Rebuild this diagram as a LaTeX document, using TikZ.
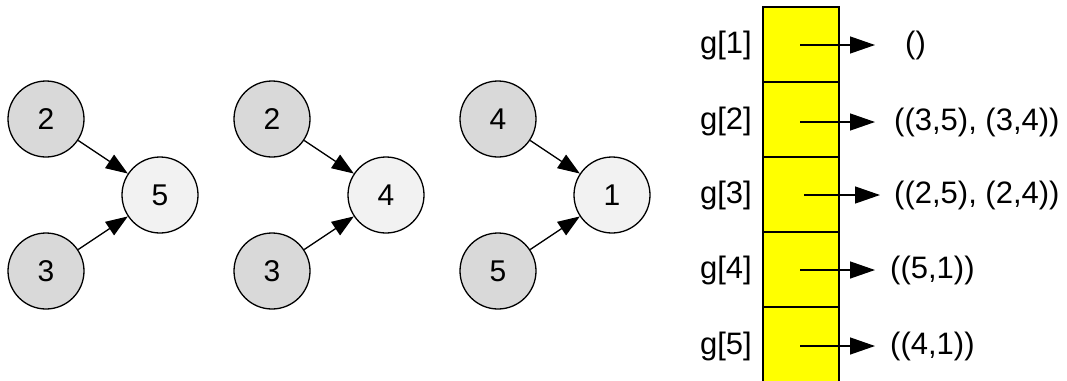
\documentclass[tikz,border=0pt]{standalone}
\usepackage{fontspec}
\setmainfont{Liberation Sans}
\usetikzlibrary{arrows.meta}
\definecolor{srcgray}{HTML}{D9D9D9}
\definecolor{dstgray}{HTML}{F2F2F2}
\definecolor{cellyellow}{HTML}{FFFF00}
\tikzset{
  vtx/.style={circle, draw=black, line width=1.3pt, minimum size=76pt, inner sep=0pt,
              font=\fontsize{30}{32}\selectfont},
  srcvtx/.style={vtx, fill=srcgray},
  dstvtx/.style={vtx, fill=dstgray},
  edgearrow/.style={line width=1.3pt, -{Triangle[length=22pt,width=16pt]}},
  ptrarrow/.style={line width=1.3pt, -{Triangle[length=25pt,width=17pt]}},
  cell/.style={draw=black, line width=1.6pt, fill=cellyellow, minimum width=76pt,
               minimum height=75pt, inner sep=0pt, outer sep=0pt, anchor=north west},
  idxlabel/.style={anchor=east, inner sep=0pt, font=\fontsize{31}{33}\selectfont},
  listlabel/.style={anchor=west, inner sep=0pt, font=\fontsize{31}{33}\selectfont},
}
\begin{document}
\begin{tikzpicture}[x=1pt,y=-1pt]
\useasboundingbox (0,0) rectangle (1067,380);

% first graph: 2 -> 5, 3 -> 5
\node[srcvtx] (a2) at (46,119) {2};
\node[srcvtx] (a3) at (46,271) {3};
\node[dstvtx] (a5) at (160,195) {5};
\draw[edgearrow] (a2) -- (a5);
\draw[edgearrow] (a3) -- (a5);

% second graph: 2 -> 4, 3 -> 4
\node[srcvtx] (b2) at (272,119) {2};
\node[srcvtx] (b3) at (272,271) {3};
\node[dstvtx] (b4) at (386,195) {4};
\draw[edgearrow] (b2) -- (b4);
\draw[edgearrow] (b3) -- (b4);

% third graph: 4 -> 1, 5 -> 1
\node[srcvtx] (c4) at (498,119) {4};
\node[srcvtx] (c5) at (498,271) {5};
\node[dstvtx] (c1) at (612,195) {1};
\draw[edgearrow] (c4) -- (c1);
\draw[edgearrow] (c5) -- (c1);

% adjacency array g[1..5]; the last cell runs off the bottom edge
\node[cell] (g1) at (763,7) {};
\node[cell] (g2) at (763,82) {};
\node[cell] (g3) at (763,157) {};
\node[cell] (g4) at (763,232) {};
\node[cell, minimum height=90pt] (g5) at (763,307) {};

\node[idxlabel] (l1) at (752,45) {g[1]};
\node[idxlabel] (l2) at (752,121) {g[2]};
\node[idxlabel] (l3) at (752,195) {g[3]};
\node[idxlabel] (l4) at (752,270) {g[4]};
\node[idxlabel] (l5) at (752,346) {g[5]};

\coordinate (p1) at (800,45);
\coordinate (p2) at (800,122);
\coordinate (p3) at (804,195);
\coordinate (p4) at (800,270);
\coordinate (p5) at (800,346);

\node[listlabel] (e1) at (905,45) {()};
\node[listlabel] (e2) at (894,122) {((3,5), (3,4))};
\node[listlabel] (e3) at (894,195) {((2,5), (2,4))};
\node[listlabel] (e4) at (890,270) {((5,1))};
\node[listlabel] (e5) at (890,346) {((4,1))};

\coordinate (t1) at (875,45);
\coordinate (t2) at (875,122);
\coordinate (t3) at (880,195);
\coordinate (t4) at (875,270);
\coordinate (t5) at (875,346);

\draw[ptrarrow] (p1) -- (t1);
\draw[ptrarrow] (p2) -- (t2);
\draw[ptrarrow] (p3) -- (t3);
\draw[ptrarrow] (p4) -- (t4);
\draw[ptrarrow] (p5) -- (t5);
\end{tikzpicture}
\end{document}
